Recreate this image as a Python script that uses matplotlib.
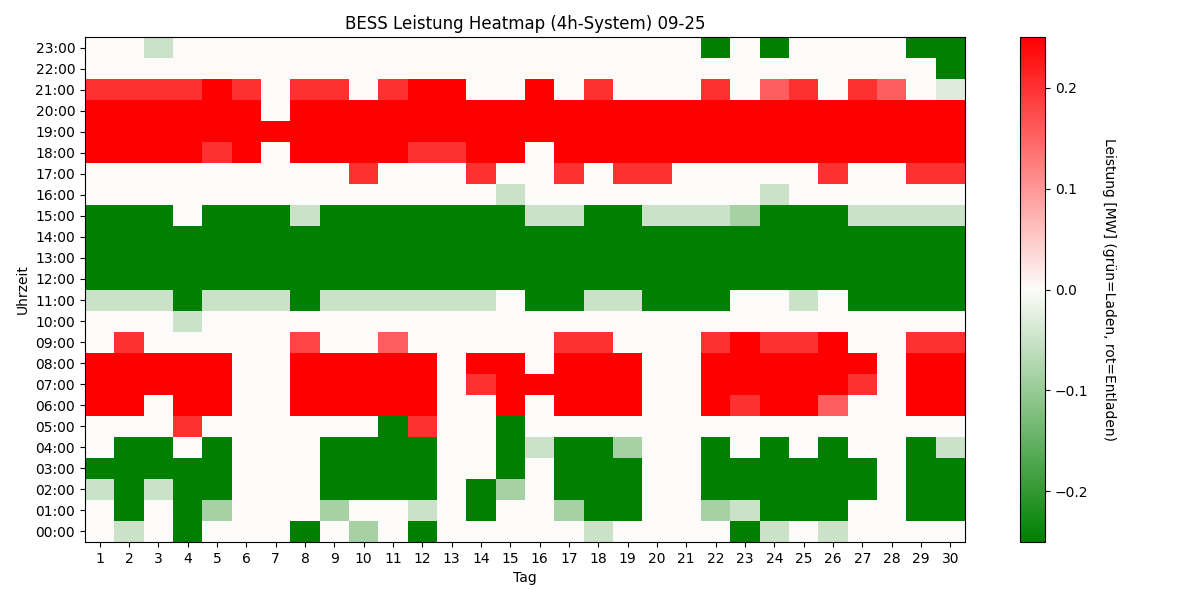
import numpy as np
import matplotlib
matplotlib.use("Agg")
import matplotlib.pyplot as plt
from matplotlib.colors import LinearSegmentedColormap

# Leistung je Stunde (Zeile) und Tag 1..30 (Spalte), in MW
days = list(range(1, 31))
hours = ["%02d:00" % h for h in range(24)]

h00 = [0, -0.05, 0, -0.25, 0, 0, 0, -0.25, 0, -0.085, 0, -0.25, 0, 0, 0, 0, 0, -0.05, 0, 0, 0, 0, -0.25, -0.05, 0, -0.05, 0, 0, 0, 0]
h01 = [0, -0.25, 0, -0.25, -0.085, 0, 0, 0, -0.085, 0, 0, -0.05, 0, -0.25, 0, 0, -0.085, -0.25, -0.25, 0, 0, -0.085, -0.05, -0.25, -0.25, -0.25, 0, 0, -0.25, -0.25]
h02 = [-0.05, -0.25, -0.05, -0.25, -0.25, 0, 0, 0, -0.25, -0.25, -0.25, -0.25, 0, -0.25, -0.085, 0, -0.25, -0.25, -0.25, 0, 0, -0.25, -0.25, -0.25, -0.25, -0.25, -0.25, 0, -0.25, -0.25]
h03 = [-0.25, -0.25, -0.25, -0.25, -0.25, 0, 0, 0, -0.25, -0.25, -0.25, -0.25, 0, 0, -0.25, 0, -0.25, -0.25, -0.25, 0, 0, -0.25, -0.25, -0.25, -0.25, -0.25, -0.25, 0, -0.25, -0.25]
h04 = [0, -0.25, -0.25, 0, -0.25, 0, 0, 0, -0.25, -0.25, -0.25, -0.25, 0, 0, -0.25, -0.05, -0.25, -0.25, -0.085, 0, 0, -0.25, 0, -0.25, 0, -0.25, 0, 0, -0.25, -0.05]
h05 = [0, 0, 0, 0.2, 0, 0, 0, 0, 0, 0, -0.25, 0.2, 0, 0, -0.25, 0, 0, 0, 0, 0, 0, 0, 0, 0, 0, 0, 0, 0, 0, 0]
h06 = [0.25, 0.25, 0, 0.25, 0.25, 0, 0, 0.25, 0.25, 0.25, 0.25, 0.25, 0, 0, 0.25, 0, 0.25, 0.25, 0.25, 0, 0, 0.25, 0.2, 0.25, 0.25, 0.155, 0, 0, 0.25, 0.25]
h07 = [0.25, 0.25, 0.25, 0.25, 0.25, 0, 0, 0.25, 0.25, 0.25, 0.25, 0.25, 0, 0.2, 0.25, 0.25, 0.25, 0.25, 0.25, 0, 0, 0.25, 0.25, 0.25, 0.25, 0.25, 0.2, 0, 0.25, 0.25]
h08 = [0.25, 0.25, 0.25, 0.25, 0.25, 0, 0, 0.25, 0.25, 0.25, 0.25, 0.25, 0, 0.25, 0.25, 0, 0.25, 0.25, 0.25, 0, 0, 0.25, 0.25, 0.25, 0.25, 0.25, 0.25, 0, 0.25, 0.25]
h09 = [0, 0.2, 0, 0, 0, 0, 0, 0.18, 0, 0, 0.155, 0, 0, 0, 0, 0, 0.2, 0.2, 0, 0, 0, 0.2, 0.25, 0.2, 0.2, 0.25, 0, 0, 0.2, 0.2]
h10 = [0, 0, 0, -0.05, 0, 0, 0, 0, 0, 0, 0, 0, 0, 0, 0, 0, 0, 0, 0, 0, 0, 0, 0, 0, 0, 0, 0, 0, 0, 0]
h11 = [-0.05, -0.05, -0.05, -0.25, -0.05, -0.05, -0.05, -0.25, -0.05, -0.05, -0.05, -0.05, -0.05, -0.05, 0, -0.25, -0.25, -0.05, -0.05, -0.25, -0.25, -0.25, 0, 0, -0.05, 0, -0.25, -0.25, -0.25, -0.25]
h12 = [-0.25] * 30
h13 = [-0.25] * 30
h14 = [-0.25] * 30
h15 = [-0.25, -0.25, -0.25, 0, -0.25, -0.25, -0.25, -0.05, -0.25, -0.25, -0.25, -0.25, -0.25, -0.25, -0.25, -0.05, -0.05, -0.25, -0.25, -0.05, -0.05, -0.05, -0.085, -0.25, -0.25, -0.25, -0.05, -0.05, -0.05, -0.05]
h16 = [0, 0, 0, 0, 0, 0, 0, 0, 0, 0, 0, 0, 0, 0, -0.05, 0, 0, 0, 0, 0, 0, 0, 0, -0.05, 0, 0, 0, 0, 0, 0]
h17 = [0, 0, 0, 0, 0, 0, 0, 0, 0, 0.2, 0, 0, 0, 0.2, 0, 0, 0.2, 0, 0.2, 0.2, 0, 0, 0, 0, 0, 0.2, 0, 0, 0.2, 0.2]
h18 = [0.25, 0.25, 0.25, 0.25, 0.2, 0.25, 0, 0.25, 0.25, 0.25, 0.25, 0.2, 0.2, 0.25, 0.25, 0, 0.25, 0.25, 0.25, 0.25, 0.25, 0.25, 0.25, 0.25, 0.25, 0.25, 0.25, 0.25, 0.25, 0.25]
h19 = [0.25] * 30
h20 = [0.25, 0.25, 0.25, 0.25, 0.25, 0.25, 0, 0.25, 0.25, 0.25, 0.25, 0.25, 0.25, 0.25, 0.25, 0.25, 0.25, 0.25, 0.25, 0.25, 0.25, 0.25, 0.25, 0.25, 0.25, 0.25, 0.25, 0.25, 0.25, 0.25]
h21 = [0.2, 0.2, 0.2, 0.2, 0.25, 0.2, 0, 0.2, 0.2, 0, 0.2, 0.25, 0.25, 0, 0, 0.25, 0, 0.2, 0, 0, 0, 0.2, 0, 0.155, 0.2, 0, 0.2, 0.155, 0, -0.03]
h22 = [0, 0, 0, 0, 0, 0, 0, 0, 0, 0, 0, 0, 0, 0, 0, 0, 0, 0, 0, 0, 0, 0, 0, 0, 0, 0, 0, 0, 0, -0.25]
h23 = [0, 0, -0.05, 0, 0, 0, 0, 0, 0, 0, 0, 0, 0, 0, 0, 0, 0, 0, 0, 0, 0, -0.25, 0, -0.25, 0, 0, 0, 0, -0.25, -0.25]

power = np.array([h00, h01, h02, h03, h04, h05, h06, h07, h08, h09, h10, h11,
                  h12, h13, h14, h15, h16, h17, h18, h19, h20, h21, h22, h23])

cmap = LinearSegmentedColormap.from_list("gwr", ["green", "#fdfcfa", "red"])

fig = plt.figure(figsize=(12, 6), dpi=100)
ax = fig.add_axes([0.0708, 0.0967, 0.7333, 0.8416])
cax = fig.add_axes([0.85, 0.0967, 0.0208, 0.8416])

im = ax.imshow(power, cmap=cmap, vmin=-0.25, vmax=0.25, aspect="auto", origin="lower")
ax.set_xticks(range(len(days)))
ax.set_xticklabels([str(d) for d in days])
ax.set_yticks(range(len(hours)))
ax.set_yticklabels(hours)
ax.set_xlabel("Tag")
ax.set_ylabel("Uhrzeit")
ax.set_title("BESS Leistung Heatmap (4h-System) 09-25")

cb = fig.colorbar(im, cax=cax)
cb.set_label("Leistung [MW] (grün=Laden, rot=Entladen)", rotation=270, labelpad=20)

fig.savefig("out.png", dpi=100)
